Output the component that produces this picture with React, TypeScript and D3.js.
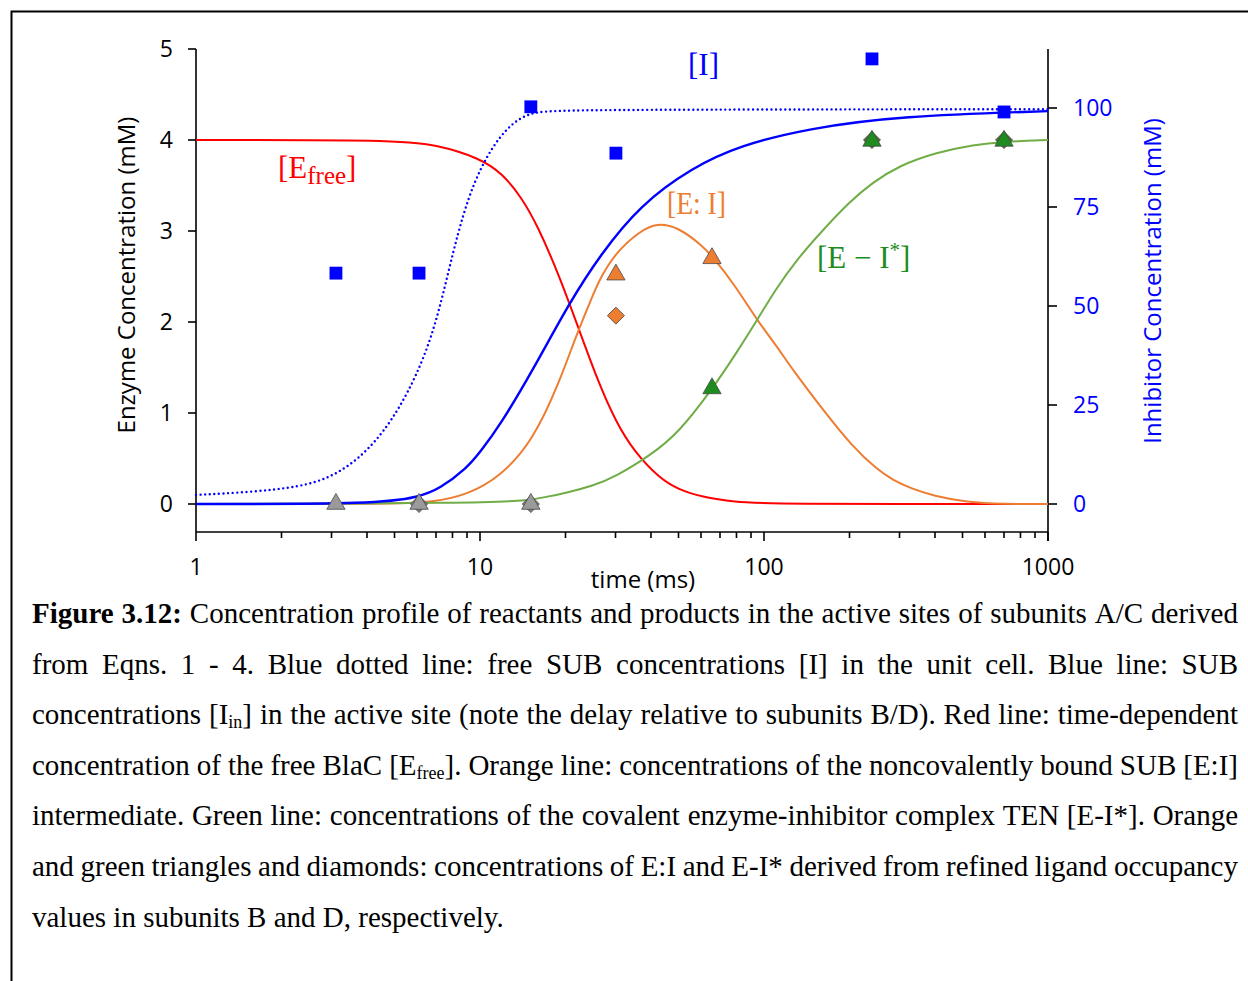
import * as React from "react";
import * as d3 from "d3";

const W = 1248;
const H = 981;

// model curves, [time (ms), concentration]
const eFree: [number, number][] = [
  [1, 4], [5, 4], [7, 3.95], [10, 3.8], [12, 3.63], [14, 3.37], [16, 3.05], [19, 2.51],
  [22, 1.97], [26, 1.35], [30, 0.91], [35, 0.57], [43, 0.28], [50, 0.16], [60, 0.08],
  [80, 0.02], [100, 0], [1000, 0],
];
const eI: [number, number][] = [
  [1, 0], [5, 0], [6.8, 0.02], [9, 0.1], [11.8, 0.3], [15.4, 0.7], [19.1, 1.35],
  [21.8, 1.85], [25, 2.3], [26.5, 2.48], [30, 2.76], [36.6, 3.0], [42, 3.09], [50, 3.04],
  [60, 2.85], [66, 2.72], [80, 2.38], [94.5, 2.02], [110, 1.75], [126.5, 1.47], [160, 1.05],
  [206, 0.62], [250, 0.38], [285, 0.26], [330, 0.17], [395, 0.09], [517, 0.02], [700, 0],
  [1000, 0],
];
const eIstar: [number, number][] = [
  [1, 0], [10, 0.01], [15, 0.04], [17.2, 0.08], [20, 0.12], [25, 0.2], [30, 0.3],
  [40, 0.54], [50, 0.78], [66, 1.27], [80, 1.66], [94.5, 2.02], [110, 2.36], [130, 2.68],
  [160, 3.0], [200, 3.32], [240, 3.53], [300, 3.72], [400, 3.86], [550, 3.95], [700, 3.98],
  [1000, 4],
];
// inhibitor, right axis
const iFree: [number, number][] = [
  [1, 2.3], [1.55, 3.0], [2.32, 4.3], [3.03, 6.8], [4.0, 12.9], [5.23, 23.7], [6.83, 41.4],
  [8.03, 64.1], [9.45, 81.8], [11.8, 93.7], [14.6, 99], [19.1, 99.6], [1000, 99.7],
];
const iIn: [number, number][] = [
  [1, 0], [4.4, 0], [6.1, 1.8], [7.2, 3.8], [9, 9.1], [10, 13.1], [11.8, 20], [15.4, 34],
  [20.7, 51], [26.5, 62.9], [36.6, 75.5], [56, 85], [82, 90.5], [142, 94.8], [300, 98],
  [1000, 99.2],
];

// measured points
const blueSq: [number, number][] = [[3.11, 58.3], [6.1, 58.3], [15.1, 100.3], [30.1, 88.6], [240, 112.4], [700, 99.0]];
const grayTri: [number, number][] = [[3.11, 0], [6.1, 0], [15.1, 0]];
const grayDia: [number, number][] = [[6.1, 0], [15.1, 0]];
const orangeTri: [number, number][] = [[30.1, 2.52], [65.6, 2.7]];
const orangeDia: [number, number][] = [[30.1, 2.07]];
const greenTri: [number, number][] = [[65.6, 1.27], [240, 3.99], [700, 3.99]];
const greenDia: [number, number][] = [[240, 4.0], [700, 4.0]];

const xTicks = [1, 10, 100, 1000];
const yLeftTicks = [0, 1, 2, 3, 4, 5];
const yRightTicks = [0, 25, 50, 75, 100];

type Piece = { t: string; b?: boolean; sub?: boolean };
const captionLines: Piece[][] = [
  [{ t: "Figure 3.12:", b: true }, { t: " Concentration profile of reactants and products in the active sites of subunits A/C derived" }],
  [{ t: "from Eqns. 1 - 4. Blue dotted line: free SUB concentrations [I] in the unit cell. Blue line: SUB" }],
  [{ t: "concentrations [I" }, { t: "in", sub: true }, { t: "] in the active site (note the delay relative to subunits B/D). Red line: time-dependent" }],
  [{ t: "concentration of the free BlaC [E" }, { t: "free", sub: true }, { t: "]. Orange line: concentrations of the noncovalently bound SUB [E:I]" }],
  [{ t: "intermediate. Green line: concentrations of the covalent enzyme-inhibitor complex TEN [E-I*]. Orange" }],
  [{ t: "and green triangles and diamonds: concentrations of E:I and E-I* derived from refined ligand occupancy" }],
  [{ t: "values in subunits B and D, respectively." }],
];

const SANS = "'Open Sans', sans-serif";
const SERIF = "'Liberation Serif', 'Times New Roman', serif";
const CAP_FS = 29;
const SUB_FS = 18;

const RED = "#ff0000";
const BLUE = "#0000ff";
const ORANGE = "#ed7d31";
const GREEN = "#70ad47";
const DKGREEN = "#1e8c1e";

function tokenize(line: Piece[]): Piece[][] {
  const words: Piece[][] = [];
  let cur: Piece[] = [];
  for (const p of line) {
    p.t.split(" ").forEach((s, i) => {
      if (i > 0) {
        if (cur.length) words.push(cur);
        cur = [];
      }
      if (s) cur.push({ ...p, t: s });
    });
  }
  if (cur.length) words.push(cur);
  return words;
}

const Caption = () => {
  const x0 = 32;
  const target = 1206;
  const base0 = 623;
  const lineGap = 50.6;

  const lines = React.useMemo(() => {
    const ctx = document.createElement("canvas").getContext("2d")!;
    const measure = (p: Piece) => {
      ctx.font = `${p.b ? "bold " : ""}${p.sub ? SUB_FS : CAP_FS}px ${SERIF}`;
      return ctx.measureText(p.t).width;
    };
    ctx.font = `${CAP_FS}px ${SERIF}`;
    const space = ctx.measureText(" ").width;

    return captionLines.map((line, li) => {
      const words = tokenize(line);
      const widths = words.map(w => w.map(measure));
      const wordW = widths.map(ws => d3.sum(ws));
      const sum = d3.sum(wordW);
      const n = words.length;
      const last = li === captionLines.length - 1;
      let gap = space;
      let scale = 1;
      if (!last) {
        gap = (target - sum) / (n - 1);
        if (gap < space * 0.6) {
          gap = space * 0.6;
          scale = target / (sum + gap * (n - 1));
        }
      }
      const pieces: { p: Piece; x: number }[] = [];
      let x = 0;
      words.forEach((w, wi) => {
        let px = x;
        w.forEach((p, pi) => {
          pieces.push({ p, x: px });
          px += widths[wi][pi];
        });
        x += wordW[wi] + gap;
      });
      return { pieces, scale };
    });
  }, []);

  return (
    <g>
      {lines.map((ln, i) => (
        <g key={i} transform={`translate(${x0},${base0 + i * lineGap}) scale(${ln.scale},1)`}>
          <text fontFamily={SERIF} fontSize={CAP_FS} fill="#000">
            {ln.pieces.map((d, j) => (
              <tspan
                key={j}
                x={d.x}
                y={d.p.sub ? 4 : 0}
                fontSize={d.p.sub ? SUB_FS : CAP_FS}
                fontWeight={d.p.b ? "bold" : "normal"}
              >
                {d.p.t}
              </tspan>
            ))}
          </text>
        </g>
      ))}
    </g>
  );
};

const App = () => {
  const x = d3.scaleLog().domain([1, 1000]).range([196, 1048]);
  const yL = d3.scaleLinear().domain([0, 5]).range([504, 49]);
  const yR = d3.scaleLinear().domain([0, 100]).range([504, 108]);
  const axisY = 532;

  const lineL = d3.line<[number, number]>().x(d => x(d[0])).y(d => yL(d[1])).curve(d3.curveBasis);
  const lineR = d3.line<[number, number]>().x(d => x(d[0])).y(d => yR(d[1])).curve(d3.curveBasis);

  const minorTicks: number[] = [];
  [1, 10, 100].forEach(d => d3.range(2, 10).forEach(k => minorTicks.push(d * k)));

  const tri = d3.symbol().type(d3.symbolTriangle).size(145)()!;
  const sq = d3.symbol().type(d3.symbolSquare).size(165)()!;
  const dia = d3.symbol().type(d3.symbolSquare).size(145)()!;

  const markers = (pts: [number, number][], path: string, fill: string, key: string, rot = 0, stroke = "#4a4a4a") =>
    pts.map((d, i) => (
      <path
        key={key + i}
        d={path}
        transform={`translate(${x(d[0])},${yL(d[1])}) rotate(${rot})`}
        fill={fill}
        stroke={stroke}
        strokeWidth={0.8}
      />
    ));

  return (
    <svg width={W} height={H} style={{ position: "absolute", left: 0, top: 0, background: "#fff" }}>
      {/* frame */}
      <path d={`M11.5,${H} V11.5 H${W}`} fill="none" stroke="#000" strokeWidth={2} />

      {/* axes */}
      <g stroke="#000" strokeWidth={1.6} fill="none">
        <line x1={196} x2={196} y1={49} y2={axisY} />
        <line x1={1048} x2={1048} y1={49} y2={axisY + 9} />
        <line x1={196} x2={1048} y1={axisY} y2={axisY} />
        {yLeftTicks.map(t => <line key={"yl" + t} x1={188} x2={196} y1={yL(t)} y2={yL(t)} />)}
        {yRightTicks.map(t => <line key={"yr" + t} x1={1048} x2={1057} y1={yR(t)} y2={yR(t)} />)}
        {xTicks.map(t => <line key={"xt" + t} x1={x(t)} x2={x(t)} y1={axisY} y2={axisY + 9} />)}
        {minorTicks.map(t => <line key={"xm" + t} x1={x(t)} x2={x(t)} y1={axisY} y2={axisY + 6} />)}
      </g>

      <g fontFamily={SANS} fontSize={23}>
        {yLeftTicks.map(t => (
          <text key={"lt" + t} x={173} y={yL(t) + 8} textAnchor="end" fill="#000">{t}</text>
        ))}
        {yRightTicks.map(t => (
          <text key={"rt" + t} x={1073} y={yR(t) + 8} textAnchor="start" fill={BLUE}>{t}</text>
        ))}
        {xTicks.map(t => (
          <text key={"xl" + t} x={x(t)} y={575} textAnchor="middle" fill="#000">{t}</text>
        ))}
        <text x={643} y={588} textAnchor="middle" fill="#000" fontSize={24}>time (ms)</text>
        <text transform="translate(135,275) rotate(-90)" textAnchor="middle" fill="#000" fontSize={24}>
          Enzyme Concentration (mM)
        </text>
        <text transform="translate(1161,281) rotate(-90)" textAnchor="middle" fill={BLUE} fontSize={24}>
          Inhibitor Concentration (mM)
        </text>
      </g>

      {/* curves */}
      <g fill="none">
        <path d={lineL(eFree)!} stroke={RED} strokeWidth={2} />
        <path d={lineL(eI)!} stroke={ORANGE} strokeWidth={2} />
        <path d={lineL(eIstar)!} stroke={GREEN} strokeWidth={2} />
        <path d={lineR(iIn)!} stroke={BLUE} strokeWidth={2.4} />
        <path d={lineR(iFree)!} stroke={BLUE} strokeWidth={2.4} strokeDasharray="0 4.6" strokeLinecap="round" />
      </g>

      {/* markers */}
      {markers(grayDia, dia, "#808080", "gd", 45)}
      {markers(grayTri, tri, "#9a9a9a", "gt")}
      {markers(orangeDia, dia, ORANGE, "od", 45)}
      {markers(orangeTri, tri, ORANGE, "ot")}
      {markers(greenDia, dia, "#4f6f30", "ed", 45)}
      {markers(greenTri, tri, DKGREEN, "et")}
      {blueSq.map((d, i) => (
        <path key={"sq" + i} d={sq} transform={`translate(${x(d[0])},${yR(d[1])})`} fill={BLUE} />
      ))}

      {/* series labels */}
      <g fontFamily={SERIF} fontSize={31}>
        <text x={278} y={178} fill={RED}>
          [E<tspan fontSize={25} dy={6}>free</tspan><tspan dy={-6}>]</tspan>
        </text>
        <text x={667} y={214} fill={ORANGE} textLength={59} lengthAdjust="spacingAndGlyphs">[E: I]</text>
        <text x={817} y={268} fill={DKGREEN}>
          [E − I<tspan fontSize={21} dy={-11}>*</tspan><tspan dy={11}>]</tspan>
        </text>
        <text x={688} y={75} fill={BLUE}>[I]</text>
      </g>

      <Caption />
    </svg>
  );
};

export default App;
